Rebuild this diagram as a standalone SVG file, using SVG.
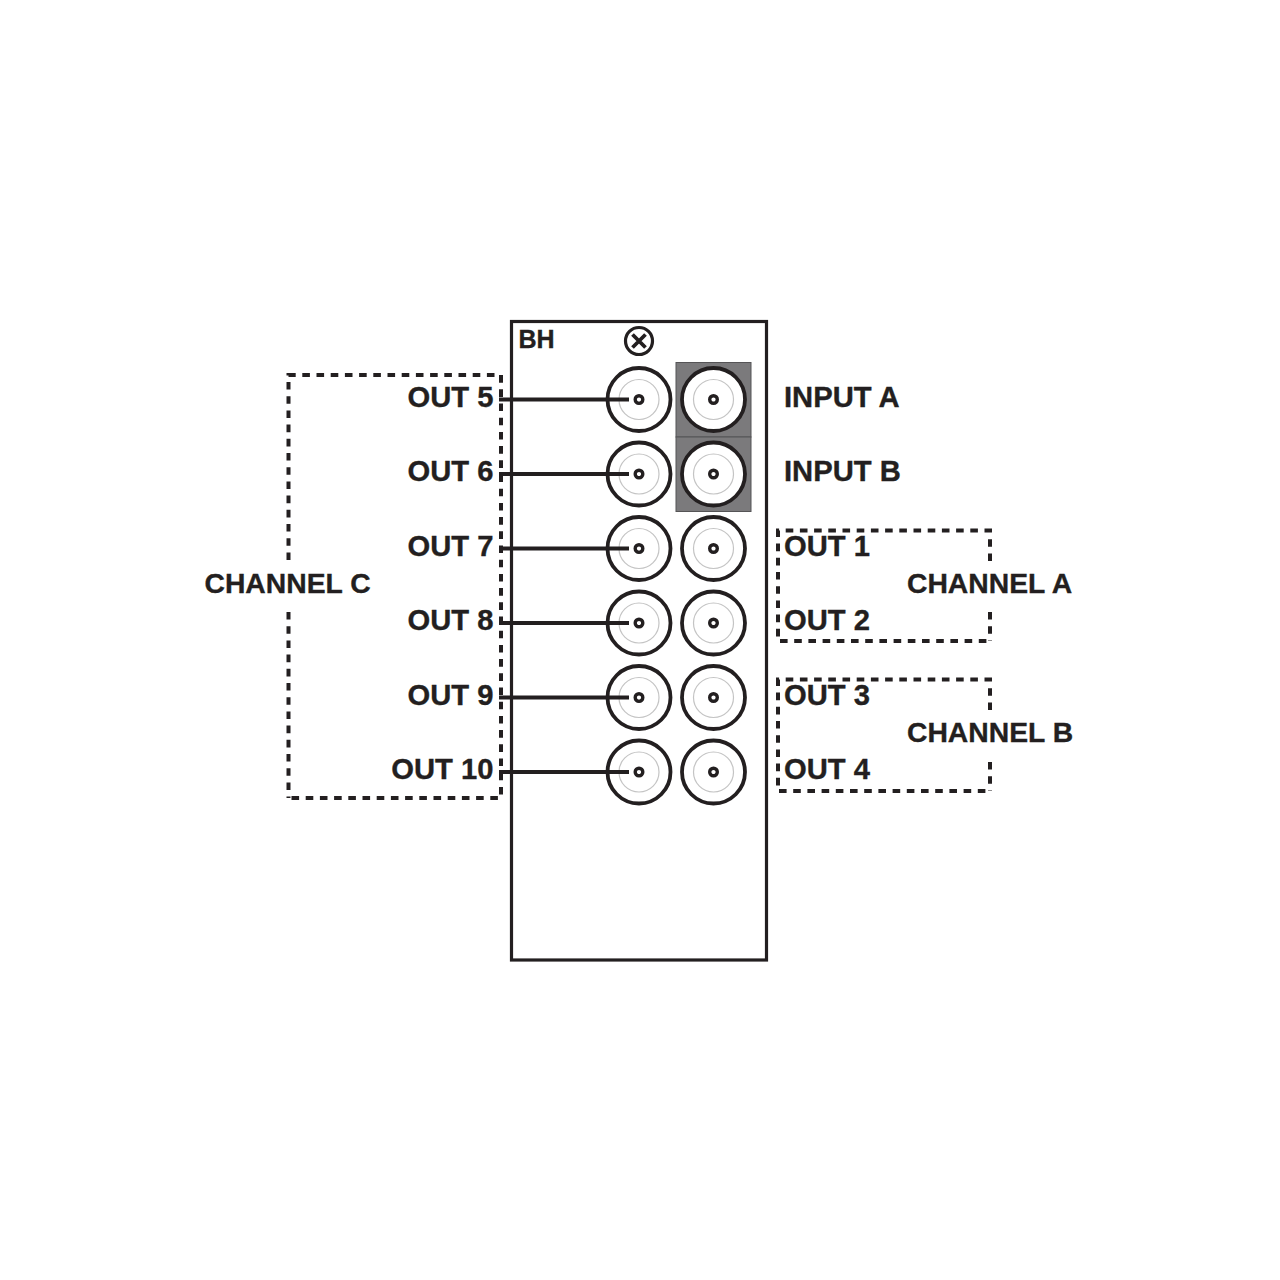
<svg xmlns="http://www.w3.org/2000/svg" width="1280" height="1280" viewBox="0 0 1280 1280">
<style>
text{font-family:"Liberation Sans",Arial,sans-serif;font-weight:700;fill:#231f20;stroke:#231f20;stroke-width:.35}
.l{font-size:29.2px}
.ch{font-size:28.3px}
.e{text-anchor:end}
.dash{fill:none;stroke:#231f20;stroke-width:4;stroke-dasharray:7.6 6.6}
.wire{fill:none;stroke:#231f20;stroke-width:3.8}
</style>
<defs>
<g id="bnc">
<circle r="31.5" fill="#fff" stroke="#231f20" stroke-width="3.8"/>
<circle r="20" fill="none" stroke="#c4c4c4" stroke-width="1.2"/>
<circle r="3.8" fill="#fff" stroke="#231f20" stroke-width="3.4"/>
</g>
</defs>
<rect width="1280" height="1280" fill="#fff"/>
<g id="panel">
<rect x="511.500" y="321.500" width="255" height="638.500" fill="#fff" stroke="#231f20" stroke-width="3.200"/>
<text x="518.500" y="347.500" font-size="25">BH</text>
</g>
<g id="screw" fill="none" stroke="#231f20">
<circle cx="639" cy="341" r="13.500" stroke-width="3.200"/>
<path d="M632.500 334.500L645.500 347.500M645.500 334.500L632.500 347.500" stroke-width="3.800"/>
</g>
<g id="input-plates" fill="#7b7a7c" stroke="#555456" stroke-width="1">
<rect x="676" y="362.500" width="75" height="74.500"/>
<rect x="676" y="437" width="75" height="74.500"/>
</g>
<g id="connectors-left">
<use href="#bnc" x="639" y="399.500"/>
<use href="#bnc" x="639" y="474"/>
<use href="#bnc" x="639" y="548.500"/>
<use href="#bnc" x="639" y="623"/>
<use href="#bnc" x="639" y="697.500"/>
<use href="#bnc" x="639" y="772"/>
</g>
<g id="connectors-right">
<use href="#bnc" x="713.500" y="399.500"/>
<use href="#bnc" x="713.500" y="474"/>
<use href="#bnc" x="713.500" y="548.500"/>
<use href="#bnc" x="713.500" y="623"/>
<use href="#bnc" x="713.500" y="697.500"/>
<use href="#bnc" x="713.500" y="772"/>
</g>
<g id="wires" class="wire">
<path d="M499 399.500H629M499 474H629M499 548.500H629M499 623H629M499 697.500H629M499 772H629"/>
</g>
<g id="channel-c">
<path class="dash" d="M288.500 560V375H501V798H288.500"/>
<path class="dash" d="M288.500 612V798"/>
<text class="ch" x="204.500" y="593">CHANNEL C</text>
</g>
<g id="channel-a">
<path class="dash" d="M990 561V530.500H778V641H990"/>
<path class="dash" d="M990 612V641"/>
<text class="ch" x="907" y="593">CHANNEL A</text>
</g>
<g id="channel-b">
<path class="dash" d="M990 710V679.500H778V791H990"/>
<path class="dash" d="M990 762V791"/>
<text class="ch" x="907" y="742">CHANNEL B</text>
</g>
<g id="labels-left">
<text class="l e" x="493.500" y="407">OUT 5</text>
<text class="l e" x="493.500" y="481">OUT 6</text>
<text class="l e" x="493.500" y="556">OUT 7</text>
<text class="l e" x="493.500" y="630">OUT 8</text>
<text class="l e" x="493.500" y="705">OUT 9</text>
<text class="l e" x="493.500" y="779">OUT 10</text>
</g>
<g id="labels-right">
<text class="l" x="784" y="407">INPUT A</text>
<text class="l" x="784" y="481">INPUT B</text>
<text class="l" x="784" y="556">OUT 1</text>
<text class="l" x="784" y="630">OUT 2</text>
<text class="l" x="784" y="705">OUT 3</text>
<text class="l" x="784" y="779">OUT 4</text>
</g>
</svg>
